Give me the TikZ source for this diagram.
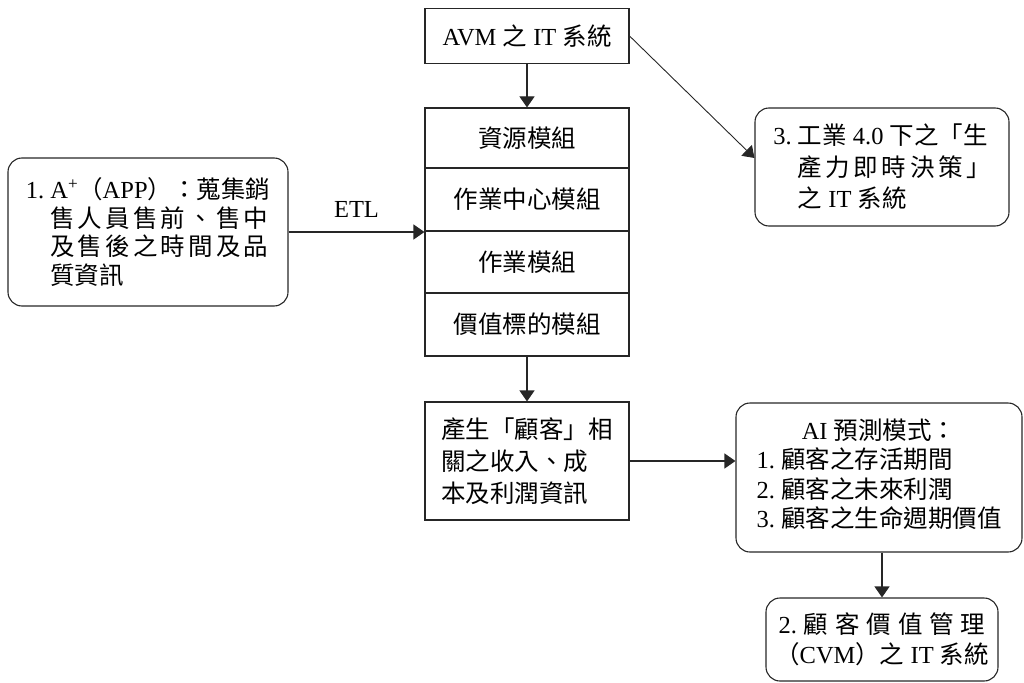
\documentclass[tikz,border=0pt]{standalone}
\usepackage{fontspec}
\setmainfont{Liberation Serif}
\newfontfamily\zhfont{Noto Sans CJK TC}
\newcommand\zh[1]{{\zhfont #1}}
\usetikzlibrary{arrows.meta}
% spread a run of CJK characters evenly over a given width
\makeatletter
\newcommand\spreadzh[2]{\makebox[#1][s]{\zhfont\def\spr@sep{}\@tfor\spr@ch:=#2\do{\spr@sep\spr@ch\def\spr@sep{\hfil}}}}
\makeatother

\tikzset{
  base/.style={draw=black!85, line width=1.1pt, inner sep=0pt},
  sqbox/.style={base},
  rbox/.style={base, rounded corners=14pt},
  txt/.style={font=\fontsize{24.5}{#1}\selectfont},
  conn/.style={line width=1.1pt, draw=black!85, -{Triangle[length=11pt,width=15pt]}},
  thinconn/.style={conn, line width=0.9pt},
  lbl/.style={inner sep=0pt, font=\fontsize{24.5}{28}\selectfont}
}

\begin{document}
\begin{tikzpicture}[x=1pt,y=-1pt]
\useasboundingbox (0,0) rectangle (1024,682);

% top system box
\node[sqbox, txt=28, minimum width=204pt, minimum height=55pt] (avm) at (527,36)
  {AVM \zh{之} IT \zh{系統}};

% stacked module boxes
\node[sqbox, txt=28, minimum width=204pt, minimum height=60pt] (m1) at (527,138) {\zh{資源模組}};
\node[sqbox, txt=28, minimum width=204pt, minimum height=63pt] (m2) at (527,199.5) {\zh{作業中心模組}};
\node[sqbox, txt=28, minimum width=204pt, minimum height=62pt] (m3) at (527,262) {\zh{作業模組}};
\node[sqbox, txt=28, minimum width=204pt, minimum height=63pt] (m4) at (527,324.5) {\zh{價值標的模組}};

% data source (left)
\node[rbox, txt=28.5, align=left, minimum width=280pt, minimum height=148pt] (src) at (148,232)
  {1.\ A\textsuperscript{+}\zh{（}APP\zh{）：蒐集銷}\\
   \hphantom{1.\ }\spreadzh{218pt}{售人員售前、售中}\\
   \hphantom{1.\ }\spreadzh{218pt}{及售後之時間及品}\\
   \hphantom{1.\ }\zh{質資訊}};

% real-time decision system (right)
\node[rbox, txt=31.5, align=left, minimum width=254pt, minimum height=118pt] (rt) at (882,167)
  {3.\ \zh{工業} 4.0 \zh{下之「生}\\
   \hphantom{3.\ }\spreadzh{193pt}{產力即時決策」}\\
   \hphantom{3.\ }\zh{之} IT \zh{系統}};

% customer information
\node[sqbox, txt=32, align=left, minimum width=204pt, minimum height=118pt] (gen) at (527,461)
  {\zh{產生「顧客」相}\\ \zh{關之收入、成}\\ \zh{本及利潤資訊}};

% prediction models
\node[rbox, txt=28.3, minimum width=286pt, minimum height=149pt] (ai) at (879,477.5)
  {\begin{tabular}{@{}l@{}}
   \multicolumn{1}{@{}c@{}}{AI \zh{預測模式：}}\\
   1.\ \zh{顧客之存活期間}\\
   2.\ \zh{顧客之未來利潤}\\
   3.\ \zh{顧客之生命週期價值}
   \end{tabular}};

% customer value management
\node[rbox, txt=30, align=center, minimum width=232pt, minimum height=83pt] (cvm) at (882,639.5)
  {\makebox[207pt][s]{2.\hfil\zh{顧}\hfil\zh{客}\hfil\zh{價}\hfil\zh{值}\hfil\zh{管}\hfil\zh{理}}\\
   \zh{（}CVM\zh{）之} IT \zh{系統}};

% connectors
\draw[conn] (avm) -- (m1);
\draw[thinconn] (avm.east) -- ([yshift=9pt]rt.west);
\draw[conn] (src.east) -- node[lbl, above=14pt] (etl) {ETL} (src.east -| m2.west);
\draw[conn] (m4) -- (gen);
\draw[conn] (gen.east) -- (gen.east -| ai.west);
\draw[conn] (cvm.north |- ai.south) -- (cvm.north);
\end{tikzpicture}
\end{document}
